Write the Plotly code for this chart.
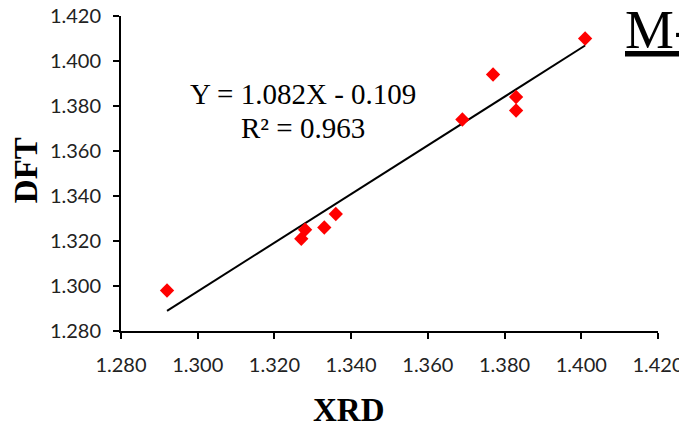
import plotly.graph_objects as go

# Data
xrd = [1.292, 1.327, 1.328, 1.333, 1.336, 1.369, 1.377, 1.383, 1.383, 1.401]
dft = [1.298, 1.321, 1.325, 1.326, 1.332, 1.374, 1.394, 1.384, 1.378, 1.410]
fit_slope = 1.082
fit_intercept = -0.109
tick_vals = [1.280, 1.300, 1.320, 1.340, 1.360, 1.380, 1.400, 1.420]
tick_text = ["1.280", "1.300", "1.320", "1.340", "1.360", "1.380", "1.400", "1.420"]

line_x = [min(xrd), max(xrd)]
line_y = [fit_slope * v + fit_intercept for v in line_x]

SERIF = "Liberation Serif, Times New Roman, serif"
SANS = "Lato, Carlito, Calibri, sans-serif"

fig = go.Figure()
fig.add_trace(go.Scatter(x=line_x, y=line_y, mode="lines",
                         line=dict(color="black", width=2), showlegend=False,
                         hoverinfo="skip"))
fig.add_trace(go.Scatter(x=xrd, y=dft, mode="markers",
                         marker=dict(symbol="diamond", size=11, color="#FF0000",
                                     line=dict(width=0)),
                         showlegend=False))

axis_common = dict(
    showgrid=False, zeroline=False, showline=True, linecolor="black", linewidth=2,
    ticks="outside", ticklen=6, tickwidth=2, tickcolor="black",
    tickfont=dict(family=SANS, size=20, color="#222222"),
    tickvals=tick_vals, ticktext=tick_text, automargin=False,
    ticklabeloverflow="allow",
)
fig.update_xaxes(range=[1.28, 1.42], ticklabelstandoff=9, **axis_common)
fig.update_yaxes(range=[1.28, 1.42], ticklabelstandoff=8, **axis_common)

# the page body has an 8px margin, so the figure is sized/offset to compensate
fig.update_layout(
    width=695, height=415,
    margin=dict(l=113, r=45, t=8, b=92, autoexpand=False),
    paper_bgcolor="white", plot_bgcolor="white",
    annotations=[
        dict(text="Y = 1.082X - 0.109", x=0.339, y=0.752, xref="paper", yref="paper",
             showarrow=False, xanchor="center", yanchor="middle",
             font=dict(family=SERIF, size=29, color="black")),
        dict(text="R² = 0.963", x=0.339, y=0.645, xref="paper", yref="paper",
             showarrow=False, xanchor="center", yanchor="middle",
             font=dict(family=SERIF, size=29, color="black")),
        dict(text="<b>XRD</b>", x=0.425, y=-0.25, xref="paper", yref="paper",
             showarrow=False, xanchor="center", yanchor="middle",
             font=dict(family=SERIF, size=33, color="black")),
        dict(text="<b>DFT</b>", x=-0.178, y=0.512, xref="paper", yref="paper",
             showarrow=False, xanchor="center", yanchor="middle", textangle=-90,
             font=dict(family=SERIF, size=33, color="black")),
        dict(text="<u>M-</u>", x=0.935, y=0.957, xref="paper", yref="paper",
             showarrow=False, xanchor="left", yanchor="middle",
             font=dict(family=SERIF, size=55, color="black")),
    ],
)

fig.write_html("out.html")
